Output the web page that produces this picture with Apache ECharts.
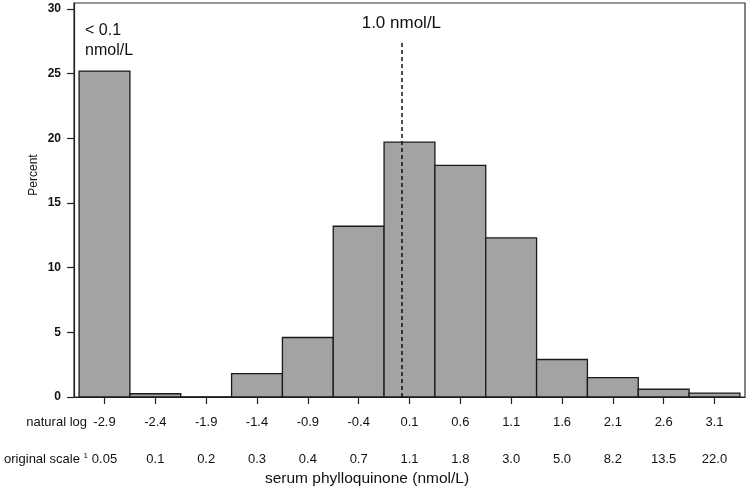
<!DOCTYPE html>
<html><head><meta charset="utf-8">
<script src="https://cdn.jsdelivr.net/npm/echarts@6/dist/echarts.min.js"></script>
<style>html,body{margin:0;padding:0;background:#fff}#c{width:747px;height:488px}</style>
</head><body><div id="c"></div>
<script>
// Bin centres (natural log scale)
const lnCentres = [-2.9, -2.4, -1.9, -1.4, -0.9, -0.4, 0.1, 0.6, 1.1, 1.6, 2.1, 2.6, 3.1];
// Percent in each bin
const percents = [25.2, 0.25, 0, 1.8, 4.6, 13.2, 19.7, 17.9, 12.3, 2.9, 1.5, 0.6, 0.3];
// Original-scale tick labels
const originalLabels = ['0.05', '0.1', '0.2', '0.3', '0.4', '0.7', '1.1', '1.8', '3.0', '5.0', '8.2', '13.5', '22.0'];
const yTicks = [0, 5, 10, 15, 20, 25, 30];
const binWidth = 0.5;
const refLine = 0.02;      // 1.0 nmol/L reference line position (as drawn, ln scale)
const refLineTop = 27.45;

const FONT = 'Liberation Sans, Arial, sans-serif';
const chart = echarts.init(document.getElementById('c'));
const data = lnCentres.map((x, i) => [x, percents[i]]);

chart.setOption({
  animation: false,
  grid: { left: 74, right: 2, top: 3, bottom: 91, show: true, borderColor: '#333', borderWidth: 1.2, backgroundColor: 'transparent' },
  xAxis: [{
    type: 'value', min: -3.2, max: 3.4,
    splitLine: { show: false },
    axisLine: { show: true, onZero: false, lineStyle: { color: '#222', width: 1.2 } },
    axisTick: { show: true, length: 7, customValues: lnCentres, lineStyle: { color: '#222', width: 1.2 } },
    axisLabel: { customValues: lnCentres, margin: 19, fontSize: 13, color: '#111', fontFamily: FONT,
      formatter: v => { const i = lnCentres.findIndex(c => Math.abs(c - v) < 1e-6); return i >= 0 ? lnCentres[i].toFixed(1) : ''; } }
  }, {
    type: 'value', min: -3.2, max: 3.4, position: 'bottom',
    splitLine: { show: false },
    axisLine: { show: false, onZero: false }, axisTick: { show: false },
    axisLabel: { customValues: lnCentres, margin: 56, fontSize: 13, color: '#111', fontFamily: FONT,
      formatter: v => { const i = lnCentres.findIndex(c => Math.abs(c - v) < 1e-6); return i >= 0 ? originalLabels[i] : ''; } }
  }],
  yAxis: {
    type: 'value', min: 0, max: 30.46,
    splitLine: { show: false },
    axisLine: { show: true, onZero: false, lineStyle: { color: '#222', width: 1.2 } },
    axisTick: { show: true, length: 7, customValues: yTicks, lineStyle: { color: '#222', width: 1.2 } },
    axisLabel: { customValues: yTicks, margin: 13, fontSize: 12, fontWeight: 'bold', color: '#111', fontFamily: FONT }
  },
  graphic: [
    { type: 'text', left: 85, top: 21, style: { text: '< 0.1\nnmol/L', font: '16px ' + FONT, fill: '#111', lineHeight: 20 } },
    { type: 'text', x: 34, y: 175, rotation: Math.PI / 2, style: { text: 'Percent', font: '12px ' + FONT, fill: '#111', align: 'center', verticalAlign: 'middle' } },
    { type: 'text', x: 87, y: 422, style: { text: 'natural log', font: '13px ' + FONT, fill: '#111', align: 'right', verticalAlign: 'middle' } },
    { type: 'text', x: 88, y: 459, style: { text: 'original scale {s|1}', font: '13px ' + FONT, fill: '#111', align: 'right', verticalAlign: 'middle',
      rich: { s: { fontSize: 8, verticalAlign: 'top', padding: [0, 0, 6, 0], fill: '#111' } } } },
    { type: 'text', x: 367, y: 479, style: { text: 'serum phylloquinone (nmol/L)', font: '15.5px ' + FONT, fill: '#111', align: 'center', verticalAlign: 'middle' } }
  ],
  series: [{
    type: 'custom',
    data: data,
    renderItem: (params, api) => {
      const x = api.value(0), y = api.value(1);
      const p0 = api.coord([x - binWidth / 2, y]);
      const p1 = api.coord([x + binWidth / 2, 0]);
      return { type: 'rect', shape: { x: p0[0], y: p0[1], width: p1[0] - p0[0], height: p1[1] - p0[1] },
        style: { fill: '#a3a3a3', stroke: '#1a1a1a', lineWidth: 1.3 } };
    },
    markLine: {
      silent: true, symbol: 'none',
      lineStyle: { type: [4, 3], color: '#111', width: 1.5 },
      label: { show: true, position: 'end', formatter: '1.0 nmol/L', fontSize: 17, color: '#111', fontFamily: FONT, distance: 10 },
      data: [[{ coord: [refLine, 0] }, { coord: [refLine, refLineTop] }]]
    }
  }]
});
</script></body></html>
